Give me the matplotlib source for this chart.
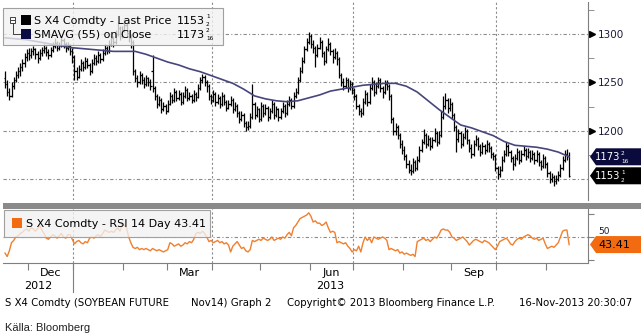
import numpy as np
import pandas as pd
import matplotlib
matplotlib.use("Agg")
import matplotlib.pyplot as plt
from matplotlib.patches import Polygon, Rectangle
from matplotlib.transforms import blended_transform_factory

plt.rcParams["font.family"] = "DejaVu Sans"

# sessions shown on the chart (one bar per weekday)
days = pd.bdate_range("2012-11-16", "2013-11-15")

opens = [1255, 1248, 1240, 1236, 1246, 1252, 1258, 1262, 1266, 1270,
         1276, 1280, 1278, 1282, 1284, 1279, 1275, 1280, 1283, 1286,
         1281, 1278, 1283, 1288, 1291, 1286, 1289, 1294, 1290, 1285,
         1288, 1282, 1276, 1262, 1256, 1264, 1270, 1266, 1272, 1268,
         1262, 1270, 1275, 1272, 1278, 1274, 1280, 1286, 1282, 1290,
         1296, 1292, 1300, 1306, 1298, 1304, 1309, 1301, 1296, 1292,
         1262, 1255, 1250, 1258, 1252, 1248, 1254, 1250, 1262, 1244,
         1236, 1228, 1232, 1222, 1226, 1220, 1228, 1236, 1232, 1240,
         1234, 1238, 1230, 1236, 1242, 1234, 1236, 1232, 1238, 1235,
         1244, 1252, 1256, 1250, 1246, 1236, 1232, 1238, 1230, 1234,
         1228, 1236, 1230, 1224, 1228, 1232, 1222, 1226, 1218, 1212,
         1216, 1208, 1204, 1205, 1214, 1228, 1216, 1222, 1212, 1226,
         1218, 1224, 1214, 1220, 1228, 1216, 1222, 1214, 1220, 1226,
         1218, 1228, 1232, 1226, 1236, 1240, 1252, 1262, 1272, 1284,
         1292, 1298, 1290, 1285, 1278, 1286, 1292, 1280, 1272, 1284,
         1290, 1282, 1276, 1280, 1274, 1258, 1250, 1246, 1252, 1244,
         1248, 1242, 1236, 1226, 1220, 1218, 1230, 1238, 1230, 1244,
         1250, 1240, 1246, 1252, 1244, 1240, 1248, 1246, 1236, 1212,
         1200, 1204, 1196, 1186, 1180, 1174, 1166, 1160, 1158, 1168,
         1162, 1170, 1180, 1188, 1196, 1186, 1192, 1184, 1190, 1198,
         1188, 1196, 1214, 1226, 1232, 1224, 1228, 1216, 1204, 1192,
         1198, 1186, 1194, 1200, 1190, 1182, 1176, 1186, 1192, 1184,
         1178, 1184, 1180, 1186, 1182, 1176, 1174, 1162, 1155, 1160,
         1170, 1176, 1184, 1178, 1172, 1166, 1172, 1178, 1170, 1176,
         1180, 1174, 1178, 1172, 1176, 1170, 1176, 1168, 1164, 1172,
         1166, 1156, 1150, 1152, 1148, 1150, 1154, 1162, 1170, 1176,
         1174]
highs = [1262, 1252, 1244, 1250, 1256, 1262, 1266, 1270, 1274, 1280,
         1284, 1285, 1286, 1288, 1286, 1282, 1284, 1287, 1290, 1288,
         1284, 1287, 1292, 1296, 1293, 1292, 1298, 1296, 1292, 1292,
         1290, 1286, 1278, 1266, 1268, 1274, 1272, 1276, 1275, 1270,
         1274, 1279, 1278, 1282, 1280, 1284, 1290, 1288, 1294, 1300,
         1298, 1304, 1312, 1308, 1308, 1315, 1311, 1304, 1300, 1294,
         1264, 1258, 1262, 1260, 1256, 1258, 1256, 1253, 1278, 1246,
         1238, 1236, 1234, 1230, 1228, 1232, 1240, 1238, 1244, 1242,
         1242, 1240, 1240, 1246, 1244, 1240, 1238, 1242, 1240, 1248,
         1256, 1259, 1258, 1252, 1248, 1238, 1242, 1240, 1238, 1236,
         1240, 1238, 1232, 1232, 1236, 1234, 1230, 1228, 1220, 1220,
         1218, 1210, 1210, 1218, 1248, 1230, 1226, 1224, 1230, 1228,
         1228, 1226, 1224, 1232, 1230, 1226, 1224, 1224, 1230, 1228,
         1232, 1236, 1234, 1240, 1244, 1256, 1266, 1276, 1288, 1296,
         1302, 1300, 1294, 1288, 1290, 1297, 1294, 1282, 1288, 1296,
         1292, 1284, 1286, 1282, 1276, 1260, 1254, 1256, 1254, 1252,
         1250, 1244, 1238, 1228, 1224, 1234, 1242, 1240, 1248, 1256,
         1252, 1250, 1256, 1254, 1246, 1252, 1252, 1248, 1238, 1214,
         1208, 1206, 1198, 1190, 1184, 1176, 1170, 1166, 1172, 1170,
         1174, 1184, 1192, 1202, 1198, 1196, 1194, 1194, 1203, 1200,
         1200, 1220, 1236, 1239, 1234, 1234, 1230, 1218, 1206, 1202,
         1200, 1198, 1204, 1202, 1192, 1186, 1190, 1196, 1194, 1186,
         1188, 1186, 1190, 1188, 1184, 1178, 1176, 1164, 1164, 1174,
         1180, 1188, 1186, 1180, 1174, 1176, 1182, 1180, 1180, 1184,
         1182, 1182, 1180, 1180, 1178, 1180, 1178, 1170, 1176, 1174,
         1168, 1158, 1156, 1154, 1154, 1158, 1166, 1174, 1180, 1181,
         1178]
lows = [1244, 1236, 1232, 1235, 1243, 1250, 1254, 1257, 1262, 1266,
        1272, 1273, 1275, 1278, 1274, 1270, 1273, 1277, 1280, 1277,
        1274, 1276, 1281, 1285, 1282, 1283, 1287, 1286, 1281, 1283,
        1278, 1270, 1252, 1252, 1254, 1262, 1262, 1264, 1265, 1258,
        1260, 1268, 1268, 1270, 1270, 1272, 1278, 1279, 1280, 1288,
        1287, 1290, 1298, 1294, 1296, 1302, 1297, 1292, 1286, 1258,
        1250, 1245, 1248, 1248, 1244, 1246, 1246, 1242, 1240, 1232,
        1224, 1226, 1218, 1220, 1217, 1219, 1227, 1229, 1230, 1231,
        1232, 1227, 1228, 1234, 1231, 1232, 1229, 1230, 1231, 1234,
        1242, 1249, 1246, 1240, 1232, 1228, 1230, 1226, 1228, 1224,
        1226, 1227, 1220, 1222, 1226, 1218, 1220, 1214, 1208, 1210,
        1204, 1200, 1201, 1203, 1212, 1212, 1214, 1209, 1210, 1214,
        1216, 1210, 1212, 1218, 1212, 1214, 1210, 1212, 1218, 1214,
        1216, 1226, 1222, 1224, 1234, 1238, 1250, 1260, 1270, 1282,
        1290, 1286, 1280, 1266, 1276, 1284, 1276, 1268, 1270, 1282,
        1278, 1270, 1274, 1268, 1254, 1246, 1242, 1244, 1240, 1242,
        1238, 1232, 1222, 1216, 1214, 1216, 1228, 1226, 1228, 1242,
        1236, 1238, 1244, 1240, 1234, 1238, 1242, 1232, 1208, 1196,
        1196, 1192, 1182, 1176, 1170, 1162, 1156, 1154, 1156, 1158,
        1160, 1168, 1178, 1186, 1182, 1184, 1180, 1182, 1188, 1184,
        1186, 1194, 1212, 1222, 1218, 1220, 1212, 1200, 1178, 1188,
        1182, 1184, 1192, 1186, 1178, 1172, 1174, 1184, 1180, 1174,
        1176, 1176, 1178, 1178, 1172, 1170, 1158, 1150, 1152, 1158,
        1168, 1174, 1174, 1168, 1160, 1164, 1170, 1166, 1168, 1174,
        1170, 1172, 1168, 1170, 1166, 1168, 1164, 1160, 1162, 1162,
        1152, 1146, 1147, 1143, 1145, 1148, 1152, 1160, 1168, 1170,
        1152]
closes = [1248, 1240, 1236, 1246, 1252, 1258, 1262, 1266, 1270, 1276,
          1280, 1278, 1282, 1284, 1279, 1275, 1280, 1283, 1286, 1281,
          1278, 1283, 1288, 1291, 1286, 1289, 1294, 1290, 1285, 1288,
          1282, 1276, 1262, 1256, 1264, 1270, 1266, 1272, 1268, 1262,
          1270, 1275, 1272, 1278, 1274, 1280, 1286, 1282, 1290, 1296,
          1292, 1300, 1306, 1298, 1304, 1309, 1301, 1296, 1292, 1262,
          1255, 1250, 1258, 1252, 1248, 1254, 1250, 1246, 1244, 1236,
          1228, 1232, 1222, 1226, 1220, 1228, 1236, 1232, 1240, 1234,
          1238, 1230, 1236, 1242, 1234, 1236, 1232, 1238, 1235, 1244,
          1252, 1256, 1250, 1246, 1236, 1232, 1238, 1230, 1234, 1228,
          1236, 1230, 1224, 1228, 1232, 1222, 1226, 1218, 1212, 1216,
          1208, 1204, 1205, 1214, 1228, 1216, 1222, 1212, 1226, 1218,
          1224, 1214, 1220, 1228, 1216, 1222, 1214, 1220, 1226, 1218,
          1228, 1232, 1226, 1236, 1240, 1252, 1262, 1272, 1284, 1292,
          1298, 1290, 1285, 1278, 1286, 1292, 1280, 1272, 1284, 1290,
          1282, 1276, 1280, 1274, 1258, 1250, 1246, 1252, 1244, 1248,
          1242, 1236, 1226, 1220, 1218, 1230, 1238, 1230, 1244, 1250,
          1240, 1246, 1252, 1244, 1240, 1248, 1246, 1236, 1212, 1200,
          1204, 1196, 1186, 1180, 1174, 1166, 1160, 1158, 1168, 1162,
          1170, 1180, 1188, 1196, 1186, 1192, 1184, 1190, 1198, 1188,
          1196, 1214, 1226, 1232, 1224, 1228, 1216, 1204, 1192, 1198,
          1186, 1194, 1200, 1190, 1182, 1176, 1186, 1192, 1184, 1178,
          1184, 1180, 1186, 1182, 1176, 1174, 1162, 1155, 1160, 1170,
          1176, 1184, 1178, 1172, 1166, 1172, 1178, 1170, 1176, 1180,
          1174, 1178, 1172, 1176, 1170, 1176, 1168, 1164, 1172, 1166,
          1156, 1150, 1152, 1148, 1150, 1154, 1162, 1170, 1176, 1174,
          1153.5]

# 55-day simple moving average on close, sampled every 5th session
sma_step = 5
sma55 = [1296, 1295, 1294, 1292, 1290, 1288, 1286, 1285, 1284, 1283,
         1282, 1282, 1282, 1279, 1275, 1271, 1268, 1264, 1261, 1257,
         1253, 1249, 1243, 1236, 1233, 1231, 1230, 1231, 1234, 1237,
         1241, 1243, 1245, 1247, 1248, 1249, 1249, 1246, 1240, 1231,
         1222, 1214, 1206, 1203, 1199, 1195, 1189, 1185, 1184, 1183,
         1181, 1178, 1173.125]

rsi14 = [36, 33, 38, 45, 47, 50, 51, 53, 54, 56,
         57, 55, 58, 57, 55, 57, 60, 56, 53, 49,
         48, 50, 52, 51, 49, 51, 53, 50, 49, 52,
         52, 48, 44, 46, 47, 45, 44, 46, 45, 49,
         50, 49, 51, 52, 50, 53, 56, 55, 54, 55,
         54, 56, 58, 55, 62, 60, 58, 50, 45, 41,
         40, 41, 39, 40, 39, 40, 39, 38, 40, 39,
         38, 39, 38, 37, 38, 39, 45, 44, 42, 43,
         44, 42, 43, 45, 44, 46, 45, 48, 53, 54,
         53, 55, 53, 50, 46, 47, 45, 46, 47, 45,
         46, 44, 45, 43, 37, 42, 44, 46, 43, 40,
         41, 38, 37, 39, 47, 46, 47, 48, 47, 49,
         48, 47, 48, 50, 47, 48, 49, 48, 50, 49,
         52, 54, 51, 58, 60, 63, 66, 67, 68, 69,
         71, 68, 63, 64, 62, 62, 60, 61, 63, 58,
         54, 55, 54, 45, 46, 45, 44, 45, 42, 40,
         37, 39, 38, 42, 37, 45, 50, 47, 49, 45,
         50, 49, 48, 49, 50, 49, 47, 39, 40, 39,
         38, 39, 36, 37, 35, 36, 35, 34, 35, 33,
         46, 47, 48, 49, 47, 48, 46, 48, 50, 49,
         52, 56, 57, 56, 56, 54, 50, 49, 47, 48,
         49, 50, 48, 46, 43, 45, 47, 48, 47, 46,
         45, 47, 46, 45, 43, 41, 39, 42, 46, 47,
         48, 49, 47, 44, 43, 46, 48, 49, 48, 50,
         51, 52, 51, 49, 48, 49, 47, 48, 49, 44,
         40, 41, 42, 41, 43, 45, 50, 55, 56, 56,
         43.41]

price_ticks = [1200, 1250, 1300]
price_minor = [1175, 1225, 1275, 1325]
price_grid = [1150, 1200, 1250, 1300]
rsi_ticks = [30, 50, 70]
rsi_mid = 50
labelled_months = [12, 3, 6, 9]
grid_months = [1, 4, 7, 10]

BAR_COL = "black"
SMA_COL = "#46467c"
RSI_COL = "#f07f2e"
GRID_COL = "#8c8c8c"
AXIS_COL = "#7f7f7f"
LABEL_COL = "#1c1c3a"
GRID_LS = (0, (3, 2, 1, 2))

W, H = 641, 335
fig = plt.figure(figsize=(W / 100, H / 100), dpi=100)
fig.patch.set_facecolor("white")


def pix_axes(x0, y0, x1, y1):
    return fig.add_axes([x0 / W, 1 - y1 / H, (x1 - x0) / W, (y1 - y0) / H])


ax = pix_axes(3, 2, 588, 200)
ax2 = pix_axes(3, 209, 588, 263)
top = pix_axes(0, 0, W, H)
top.set_xlim(0, W)
top.set_ylim(H, 0)
top.axis("off")
top.set_zorder(10)

n = len(closes)
x = np.arange(n)
xlim = (-0.92, 268.7)

# --- price bars ---
o, hi, lo, c = (np.array(a, dtype=float) for a in (opens, highs, lows, closes))
ax.vlines(x, lo, hi, colors=BAR_COL, lw=0.9, zorder=3)
ax.hlines(o, x - 0.6, x, colors=BAR_COL, lw=0.9, zorder=3)
ax.hlines(c, x, x + 0.6, colors=BAR_COL, lw=0.9, zorder=3)
ax.plot(np.arange(0, n, sma_step), sma55, color=SMA_COL, lw=1.2, zorder=4)
ax.set_xlim(*xlim)
ax.set_ylim(1128.5, 1333)

# month boundaries (first session of each month)
months = days.to_period("M")
starts = [i for i in range(1, n) if months[i] != months[i - 1]]
quarter_starts = [i for i in starts if days[i].month in grid_months]

for v in price_grid:
    ax.axhline(v, color=GRID_COL, lw=0.8, ls=GRID_LS, zorder=1)
for i in quarter_starts:
    ax.axvline(i - 0.5, color=GRID_COL, lw=0.8, ls=(0, (2, 2)), zorder=1)
    ax2.axvline(i - 0.5, color=GRID_COL, lw=0.8, ls=(0, (2, 2)), zorder=1)

for s in ("left", "top", "bottom"):
    ax.spines[s].set_visible(False)
ax.spines["right"].set_color(AXIS_COL)
ax.yaxis.tick_right()
ax.set_xticks([])
ax.set_yticks(price_ticks)
ax.set_yticks(price_minor, minor=True)
ax.tick_params(axis="y", which="major", length=0, pad=7, labelsize=7.5,
               labelcolor=LABEL_COL)
ax.tick_params(axis="y", which="minor", length=4, color=AXIS_COL)
right_edge = blended_transform_factory(ax.transAxes, ax.transData)
ax.plot(np.full(len(price_ticks), 1 + 3.5 / 585), price_ticks, ls="none",
        marker=">", ms=4.5, color="black", transform=right_edge, clip_on=False)

# --- RSI panel ---
ax2.plot(x, rsi14, color=RSI_COL, lw=1.0, zorder=3)
ax2.axhline(rsi_mid, color=GRID_COL, lw=0.8, ls=GRID_LS, zorder=1)
ax2.set_xlim(*xlim)
ax2.set_ylim(27.4, 74.3)
for s in ("left", "top"):
    ax2.spines[s].set_visible(False)
ax2.spines["right"].set_color(AXIS_COL)
ax2.spines["bottom"].set_color(AXIS_COL)
ax2.yaxis.tick_right()
ax2.set_yticks(rsi_ticks)
ax2.set_yticklabels([])
ax2.tick_params(axis="y", length=4, color=AXIS_COL)
ax2.set_xticks(np.array(starts) - 0.5)
ax2.set_xticklabels([])
ax2.tick_params(axis="x", length=5, color=AXIS_COL)


def to_top(axis, xv, yv):
    d = axis.transData.transform((xv, yv))
    return top.transData.inverted().transform(d)


# separator band between the panels
top.add_patch(Rectangle((3, 203), W - 3, 6, fc="#8a8a8a", ec="none"))

# month / year labels under the RSI panel
xlab = blended_transform_factory(ax2.transData, top.transData)
bounds = starts + [n]
for k, i in enumerate(starts):
    if days[i].month in labelled_months:
        mid = (i + bounds[k + 1]) / 2 - 0.5
        top.text(mid, 273, days[i].strftime("%b"), transform=xlab, ha="center",
                 va="center", fontsize=8, color="black")
jan = [i for i in starts if days[i].month == 1][0]
top.text((xlim[0] + jan - 0.5) / 2, 286, str(days[0].year), transform=xlab,
         ha="center", va="center", fontsize=8)
top.text((jan - 0.5 + xlim[1]) / 2, 286, str(days[jan].year), transform=xlab,
         ha="center", va="center", fontsize=8)
top.plot([jan - 0.5, jan - 0.5], [263, 292], color=AXIS_COL, lw=0.8,
         transform=xlab)


def split_price(v):
    whole = int(v)
    sixteenths = int(round((v - whole) * 16))
    if sixteenths == 8:
        return str(whole), ("1", "2")
    if sixteenths == 0:
        return str(whole), None
    return str(whole), (str(sixteenths), "16")


def stacked(xl, yc, frac, color, size=4.2):
    top.text(xl, yc - 3.8, frac[0], ha="left", va="center", fontsize=size,
             color=color, zorder=6)
    top.text(xl, yc + 3.8, frac[1], ha="left", va="center", fontsize=size,
             color=color, zorder=6)


def value_tag(yc, fc, tc, v, text=None):
    pts = [(590, yc), (596, yc - 8.5), (W, yc - 8.5), (W, yc + 8.5), (596, yc + 8.5)]
    top.add_patch(Polygon(pts, closed=True, fc=fc, ec="none", zorder=5))
    if text is not None:
        top.text(598, yc + 0.5, text, ha="left", va="center", fontsize=8,
                 color=tc, zorder=6)
        return
    whole, frac = split_price(v)
    top.text(620, yc + 0.5, whole, ha="right", va="center", fontsize=7.2,
             color=tc, zorder=6)
    if frac:
        stacked(621, yc + 0.5, frac, tc)


last_close = closes[-1]
last_sma = sma55[-1]
last_rsi = rsi14[-1]
value_tag(to_top(ax, 0, last_sma)[1], "#0a0a3c", "white", last_sma)
value_tag(to_top(ax, 0, last_close)[1], "black", "white", last_close)
rsi_y = to_top(ax2, 0, last_rsi)[1]
value_tag(rsi_y, "#f26b10", "black", last_rsi, text=f"{last_rsi:.2f}")

# the 50 level label peeks out just above the RSI tag
mid_y = to_top(ax2, 0, rsi_mid)[1]
top.text(598, min(mid_y, rsi_y - 8.5), str(rsi_mid), ha="left", va="bottom",
         fontsize=6.5, color=LABEL_COL, zorder=4)

# --- legends ---
top.add_patch(Rectangle((3, 8), 220, 37, fc=(0.95, 0.95, 0.95, 0.78),
                        ec="#a0a0a0", lw=0.8))
top.add_patch(Rectangle((10, 17), 5, 6, fc="white", ec="#404040", lw=0.7))
top.plot([11.3, 13.8], [20, 20], color="#404040", lw=0.7)
top.plot([12.5, 12.5, 20], [23, 34, 34], color="#404040", lw=0.7)
top.add_patch(Rectangle((21, 15), 10, 10, fc="black", ec="none"))
top.add_patch(Rectangle((21, 29), 10, 10, fc="#0a0a45", ec="none"))
top.text(34, 20.5, "S X4 Comdty - Last Price", ha="left", va="center",
         fontsize=8)
top.text(34, 34.5, "SMAVG (55) on Close", ha="left", va="center", fontsize=8)
for yc, v in ((20.5, last_close), (34.5, last_sma)):
    whole, frac = split_price(v)
    top.text(205, yc, whole, ha="right", va="center", fontsize=8)
    if frac:
        stacked(206, yc, frac, "black")

top.add_patch(Rectangle((4, 210), 206, 27, fc=(0.95, 0.95, 0.95, 0.78),
                        ec="#a0a0a0", lw=0.8))
top.add_patch(Rectangle((12, 218), 10, 10, fc="#f26b10", ec="none"))
top.text(26, 224, f"S X4 Comdty - RSI 14 Day {last_rsi:.2f}", ha="left",
         va="center", fontsize=8)

# --- footer ---
foot = dict(ha="left", va="center", fontsize=7.3, color="black")
top.text(5, 303, "S X4 Comdty (SOYBEAN FUTURE", **foot)
top.text(191, 303, "Nov14) Graph 2", **foot)
top.text(287, 303, "Copyright\u00a9 2013 Bloomberg Finance L.P.", **foot)
top.text(519, 303, "16-Nov-2013 20:30:07", **foot)
top.text(5, 328, "K\u00e4lla: Bloomberg", ha="left", va="center", fontsize=8,
         family="Liberation Sans", color="#222222")

fig.savefig("out.png", dpi=100, facecolor="white")
